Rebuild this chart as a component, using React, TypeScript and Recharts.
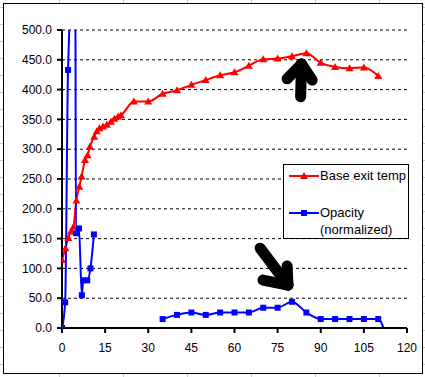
import React from 'react';
import { LineChart, Line, XAxis, YAxis, CartesianGrid, ReferenceLine } from 'recharts';

// Base exit temp (red, triangles)
const tempX = [0, 1.2, 2.2, 3.1, 4, 5, 6, 6.8, 8, 8.9, 9.7, 11.2, 12.1, 13, 14.3, 15.6, 17, 18.2, 19.5, 20.5, 25, 30, 35, 40, 45, 50, 55, 60, 65, 70, 75, 80, 85, 90, 95, 100, 105, 110];
const tempY = [114, 134, 151, 162, 170, 214, 237, 254, 282, 290, 304, 321, 330, 335, 338, 341, 346, 351, 355, 357, 380, 380, 393, 399, 408, 416, 424, 429, 440, 451, 452, 456, 461, 445, 438, 436, 437, 423];

// Opacity (normalized), blue squares: start-up burst, then the run
const opacityStartX = [0, 1.1, 2.1, 4.6, 4.85, 5.9, 6.9, 7.4, 8.8, 9.9, 11.1];
const opacityStartY = [0, 43, 433, 650, 159, 167, 55, 80, 80, 100, 157];
const opacityRunX = [35, 40, 45, 50, 55, 60, 65, 70, 75, 80, 85, 90, 95, 100, 105, 110, 112.5];
const opacityRunY = [15, 22, 26, 22, 26, 26, 26, 34, 34, 44, 26, 15, 15, 15, 15, 15, -10];

const xTicks = [0, 15, 30, 45, 60, 75, 90, 105, 120];
const yTicks = [0, 50, 100, 150, 200, 250, 300, 350, 400, 450, 500];

// hand-drawn arrows, in data units
const upArrow = [
  [{ x: 83, y: 388 }, { x: 83.3, y: 443 }],
  [{ x: 78.3, y: 418 }, { x: 83.3, y: 443 }],
  [{ x: 87, y: 416 }, { x: 83.3, y: 443 }],
];
const downArrow = [
  [{ x: 68.9, y: 134 }, { x: 78.6, y: 72 }],
  [{ x: 69.9, y: 80.5 }, { x: 78.6, y: 72 }],
  [{ x: 78.3, y: 104 }, { x: 78.6, y: 72 }],
];

const RED = '#ff0000';
const BLUE = '#0000ff';
const FONT = '"Liberation Sans", Arial, sans-serif';

const zip = (xs: number[], ys: number[]) => xs.map((x, i) => ({ x, y: ys[i] }));

const Triangle = (props: any) => {
  const { cx, cy, index } = props;
  if (cx == null || cy == null) return <g key={index} />;
  return <polygon key={index} points={`${cx - 4},${cy + 3} ${cx + 4},${cy + 3} ${cx},${cy - 4}`} fill={RED} />;
};

const Square = (props: any) => {
  const { cx, cy, index } = props;
  if (cx == null || cy == null) return <g key={index} />;
  return <rect key={index} x={cx - 3} y={cy - 3} width={6} height={6} fill={BLUE} />;
};

function LegendBox() {
  const row = (color: string, marker: React.ReactNode, lines: string[], top: number) => (
    <div style={{ position: 'absolute', left: 4, top, display: 'flex', alignItems: 'flex-start' }}>
      <svg width={32} height={14} style={{ flex: 'none' }}>
        <line x1={1} y1={7} x2={31} y2={7} stroke={color} strokeWidth={2} />
        {marker}
      </svg>
      <div style={{ lineHeight: '17px', marginTop: -2 }}>
        {lines.map((l) => (
          <div key={l}>{l}</div>
        ))}
      </div>
    </div>
  );
  return (
    <div
      style={{
        position: 'absolute',
        left: 283,
        top: 164,
        width: 124,
        height: 73,
        border: '1px solid #000',
        background: '#fff',
        fontFamily: FONT,
        fontSize: 13,
        color: '#000',
        whiteSpace: 'nowrap',
      }}
    >
      {row(RED, <polygon points="12,10 20,10 16,3" fill={RED} />, ['Base exit temp'], 4)}
      {row(BLUE, <rect x={13} y={4} width={6} height={6} fill={BLUE} />, ['Opacity', '(normalized)'], 41)}
    </div>
  );
}

export default function App() {
  const sheetGrid =
    'repeating-linear-gradient(to right, transparent 0, transparent 59px, #c8c8c8 59px, #c8c8c8 60px, transparent 60px, transparent 64px),' +
    'repeating-linear-gradient(to bottom, transparent 0, transparent 7px, #c8c8c8 7px, #c8c8c8 8px, transparent 8px, transparent 17px)';
  return (
    <div style={{ position: 'absolute', left: 0, top: 0, width: 425, height: 377, background: '#fff', overflow: 'hidden' }}>
      <div style={{ position: 'absolute', inset: 0, backgroundImage: sheetGrid }} />
      <div
        style={{
          position: 'absolute',
          left: 3,
          top: 3,
          width: 418,
          height: 369,
          border: '1px solid #000',
          background: '#fff',
        }}
      />
      <div style={{ position: 'absolute', left: 0, top: 0 }}>
        <LineChart width={425} height={377} margin={{ top: 30, right: 18, bottom: 29, left: 7 }}>
          <CartesianGrid horizontal vertical={false} stroke="#000" strokeDasharray="3 3" />
          <XAxis
            type="number"
            dataKey="x"
            domain={[0, 120]}
            ticks={xTicks}
            allowDataOverflow
            height={20}
            tickSize={5}
            tickMargin={10}
            axisLine={{ stroke: '#000', strokeWidth: 2 }}
            tickLine={{ stroke: '#000', strokeWidth: 2 }}
            tick={{ fill: '#000', fontSize: 12, fontFamily: FONT }}
          />
          <YAxis
            type="number"
            dataKey="y"
            domain={[0, 500]}
            ticks={yTicks}
            allowDataOverflow
            width={55}
            tickSize={5}
            tickMargin={5}
            tickFormatter={(v: number) => v.toFixed(1)}
            axisLine={{ stroke: '#000', strokeWidth: 2 }}
            tickLine={{ stroke: '#000', strokeWidth: 2 }}
            tick={{ fill: '#000', fontSize: 12, fontFamily: FONT }}
          />
          <Line
            data={zip(tempX, tempY)}
            dataKey="y"
            type="monotone"
            stroke={RED}
            strokeWidth={2}
            dot={Triangle}
            isAnimationActive={false}
          />
          <Line
            data={zip(opacityStartX, opacityStartY)}
            dataKey="y"
            type="monotone"
            stroke={BLUE}
            strokeWidth={2}
            dot={Square}
            isAnimationActive={false}
          />
          <Line
            data={zip(opacityRunX, opacityRunY)}
            dataKey="y"
            type="monotone"
            stroke={BLUE}
            strokeWidth={2}
            dot={Square}
            isAnimationActive={false}
          />
          {[...upArrow, ...downArrow].map((seg, i) => (
            <ReferenceLine
              key={i}
              segment={seg}
              stroke="#000"
              strokeWidth={11}
              strokeLinecap="round"
              ifOverflow="visible"
            />
          ))}
        </LineChart>
      </div>
      <LegendBox />
    </div>
  );
}
